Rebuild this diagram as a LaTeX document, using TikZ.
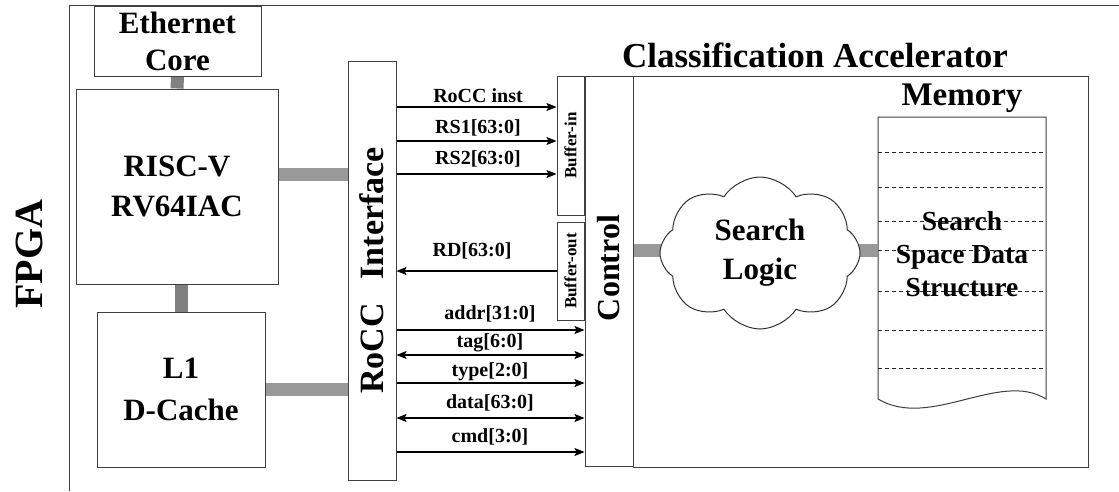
\documentclass[tikz,border=0pt]{standalone}
\usepackage{fontspec}
\setmainfont{Liberation Serif}
\usetikzlibrary{shapes.symbols,arrows.meta,backgrounds}

\begin{document}
\begin{tikzpicture}[x=1pt,y=-1pt,
  edge/.style={draw=black!75, line width=1pt},
  block/.style={edge, fill=white, inner sep=0pt, align=center},
  sig/.style={font=\bfseries\fontsize{20}{24}\selectfont, inner sep=0pt},
  bar/.style={line width=13pt, draw=black!40},
  vbar/.style={line width=13pt, draw=black!50},
  wire/.style={line width=1.1pt, -{Stealth[length=10pt,width=8pt,inset=2pt]}},
  wire2/.style={line width=1.1pt, {Stealth[length=10pt,width=8pt,inset=2pt]}-{Stealth[length=10pt,width=8pt,inset=2pt]}},
  memline/.style={line width=0.9pt, dash pattern=on 4pt off 3pt, draw=black!85}
]
\useasboundingbox (0,0) rectangle (1119,491);

% FPGA frame (left and top edges)
\coordinate (fbl) at (69,491);
\coordinate (ftl) at (69,5);
\coordinate (ftr) at (1119,5);
\draw[edge] (fbl) -- (ftl) -- (ftr);
\node[font=\bfseries\fontsize{40}{40}\selectfont, rotate=90] (fpga) at (29,254) {FPGA};

% processor side blocks
\node[block, minimum width=167pt, minimum height=70pt, font=\bfseries\fontsize{31}{37}\selectfont] (eth) at (177.5,41) {Ethernet\\Core};
\node[block, minimum width=202pt, minimum height=195pt, font=\bfseries\fontsize{31}{40}\selectfont] (risc) at (177,186.5) {RISC-V\\RV64IAC};
\node[block, minimum width=168pt, minimum height=155pt, font=\bfseries\fontsize{31}{42}\selectfont] (l1) at (181,389.5) {L1\\D-Cache};

% RoCC interface
\node[block, minimum width=48pt, minimum height=419pt] (rocc) at (372,270.5) {};
\node[font=\bfseries\fontsize{34}{34}\selectfont, rotate=90] (rocctxt) at (rocc.center) {RoCC\hspace{0.7em}Interface};

% accelerator
\node[font=\bfseries\fontsize{35}{35}\selectfont] (acctitle) at (815,55) {Classification Accelerator};
\node[block, minimum width=455pt, minimum height=391pt] (accel) at (860.5,271.5) {};
\node[block, minimum width=48pt, minimum height=390pt] (ctrl) at (609,271) {};
\node[font=\bfseries\fontsize{32}{32}\selectfont, rotate=90] (ctrltxt) at (609,268) {Control};
\node[block, minimum width=27pt, minimum height=139pt] (bufin) at (570.5,145.5) {};
\node[font=\bfseries\fontsize{17}{17}\selectfont, rotate=90] (bufintxt) at (bufin.center) {Buffer-in};
\node[block, minimum width=27pt, minimum height=98pt] (bufout) at (570.5,271) {};
\node[font=\bfseries\fontsize{17}{17}\selectfont, rotate=90] (bufouttxt) at (bufout.center) {Buffer-out};

% memory with wavy lower edge
\node[font=\bfseries\fontsize{33}{33}\selectfont] (memtitle) at (962,98) {Memory};
\coordinate (mtl) at (878,117);
\coordinate (mtr) at (1046,117);
\coordinate (mbr) at (1046,399);
\coordinate (mbl) at (878,399);
\draw[edge, fill=white] (mbl) -- (mtl) -- (mtr) -- (mbr)
  .. controls (1000,370) and (930,430) .. (mbl);
\foreach \yy in {152,187,221,250,291,330,368}
  \draw[memline] (878,\yy) -- (1046,\yy);
\node[align=center, font=\bfseries\fontsize{27.5}{33}\selectfont] (memtxt) at (962,254) {Search\\Space Data\\Structure};

% search logic: buses first, cloud drawn over their inner ends
\coordinate (cc) at (760,253);
\draw[bar] (ctrl.east |- {(0,250)}) -- (cc |- {(0,250)});
\draw[bar] (cc |- {(0,250)}) -- (mtl |- {(0,250)});
\node[cloud, cloud puffs=8, cloud puff arc=115, cloud ignores aspect, draw=black!80, line width=1pt, fill=white,
      minimum width=200pt, minimum height=152pt, align=center, inner sep=0pt,
      font=\bfseries\fontsize{31}{39}\selectfont] (cloud) at (cc) {Search\\Logic};

% thick buses on the processor side, kept behind the blocks
\begin{scope}[on background layer]
\draw[vbar] (eth.south) -- (risc.north);
\draw[vbar] (l1.north |- risc.south) -- (l1.north);
\draw[bar] (risc.east |- {(0,174)}) -- (rocc.west |- {(0,174)});
\draw[bar] (l1.east) -- (rocc.west |- l1.east);
\end{scope}

% RoCC command / response signals
\draw[wire] (rocc.east |- {(0,107)}) -- (bufin.west |- {(0,107)});
\draw[wire] (rocc.east |- {(0,141)}) -- (bufin.west |- {(0,141)});
\draw[wire] (rocc.east |- {(0,174)}) -- (bufin.west |- {(0,174)});
\draw[wire] (bufout.west |- {(0,271)}) -- (rocc.east |- {(0,271)});
\node[sig] (l1t) at (478,96) {RoCC inst};
\node[sig] (l2t) at (478,128) {RS1[63:0]};
\node[sig] (l3t) at (478,159) {RS2[63:0]};
\node[sig] (l4t) at (472,251) {RD[63:0]};

% memory interface signals
\draw[wire]  (rocc.east |- {(0,330)}) -- (ctrl.west |- {(0,330)});
\draw[wire2] (rocc.east |- {(0,355)}) -- (ctrl.west |- {(0,355)});
\draw[wire]  (rocc.east |- {(0,383)}) -- (ctrl.west |- {(0,383)});
\draw[wire2] (rocc.east |- {(0,418)}) -- (ctrl.west |- {(0,418)});
\draw[wire]  (rocc.east |- {(0,452)}) -- (ctrl.west |- {(0,452)});
\node[sig] (m1t) at (490,314) {addr[31:0]};
\node[sig] (m2t) at (490,343) {tag[6:0]};
\node[sig] (m3t) at (490,372) {type[2:0]};
\node[sig] (m4t) at (490,403) {data[63:0]};
\node[sig] (m5t) at (490,437) {cmd[3:0]};
\end{tikzpicture}
\end{document}
